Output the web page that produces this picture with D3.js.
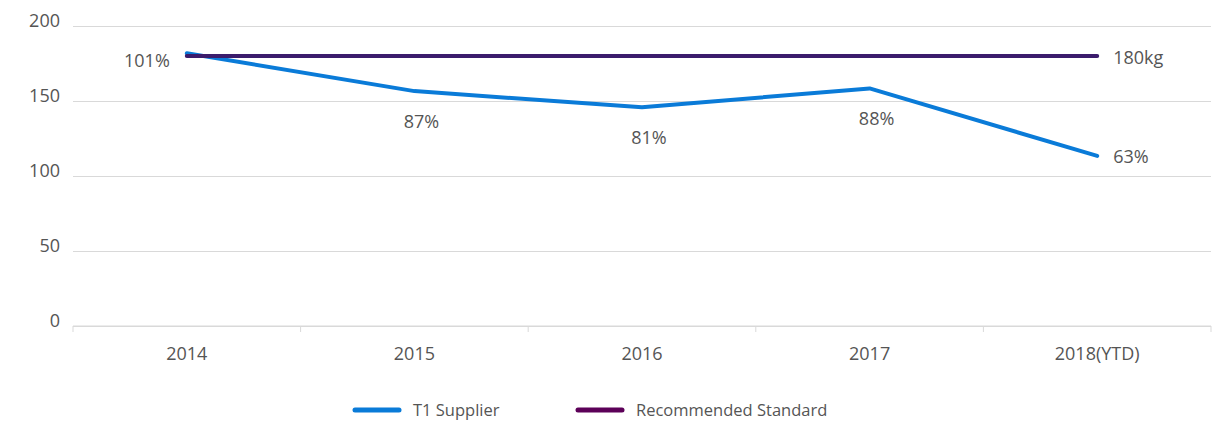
<!DOCTYPE html>
<html>
<head>
<meta charset="utf-8">
<script src="https://cdn.jsdelivr.net/npm/d3@7/dist/d3.min.js"></script>
<style>
  html, body { margin: 0; padding: 0; background: #fff; }
  svg text { font-family: "Open Sans", "Noto Sans", sans-serif; fill: #555555; }
</style>
</head>
<body>
<svg id="chart" width="1226" height="426"></svg>
<script>
// Annual figures (kg) against the recommended standard
const categories = ["2014", "2015", "2016", "2017", "2018(YTD)"];
const supplierValues = [181.8, 156.6, 145.8, 158.4, 113.4];
const standardValues = [180, 180, 180, 180, 180];
const yTicks = [0, 50, 100, 150, 200];
const seriesNames = ["T1 Supplier", "Recommended Standard"];

const W = 1226, H = 426;
const margin = { top: 26, right: 15, bottom: 100, left: 73 };
const innerW = W - margin.left - margin.right;
const innerH = H - margin.top - margin.bottom;
const numFont = 18;
const legendFont = 16.5;

const svg = d3.select("#chart");
const g = svg.append("g").attr("transform", `translate(${margin.left},${margin.top})`);

const x = d3.scaleBand().domain(categories).range([0, innerW]);
const y = d3.scaleLinear().domain([0, 200]).range([innerH, 0]);
const cx = c => x(c) + x.bandwidth() / 2;

// Horizontal gridlines with their value labels sitting just above
const yAxis = d3.axisLeft(y).tickValues(yTicks).tickSize(-innerW).tickPadding(13);
const yg = g.append("g").call(yAxis);
yg.select(".domain").remove();
yg.selectAll(".tick line").attr("stroke", "#d9d9d9").attr("stroke-width", 1);
yg.selectAll(".tick text")
  .attr("font-size", numFont)
  .attr("dy", 0)
  .attr("dominant-baseline", "auto");

// Category axis with ticks between the bands
const xAxisG = g.append("g").attr("transform", `translate(0,${innerH})`);
xAxisG.append("line")
  .attr("x1", 0).attr("x2", innerW)
  .attr("stroke", "#d9d9d9");
const bounds = categories.map(c => x(c)).concat([innerW]);
xAxisG.selectAll(".sep").data(bounds).join("line")
  .attr("x1", d => d).attr("x2", d => d)
  .attr("y1", 0).attr("y2", 6)
  .attr("stroke", "#d9d9d9");
xAxisG.selectAll(".cat").data(categories).join("text")
  .attr("x", d => cx(d))
  .attr("y", 34)
  .attr("text-anchor", "middle")
  .attr("font-size", numFont)
  .text(d => d);

const line = d3.line().x(d => cx(d.c)).y(d => y(d.v));

const supplier = categories.map((c, i) => ({ c, v: supplierValues[i] }));
const standard = categories.map((c, i) => ({ c, v: standardValues[i] }));

const supplierColor = "#0a7bd8";
const standardColor = "#3b1c6c";
const standardLegendColor = "#5c0058";

g.append("path").datum(supplier)
  .attr("d", line)
  .attr("fill", "none")
  .attr("stroke", supplierColor)
  .attr("stroke-width", 4)
  .attr("stroke-linejoin", "round")
  .attr("stroke-linecap", "round");

g.append("path").datum(standard)
  .attr("d", line)
  .attr("fill", "none")
  .attr("stroke", standardColor)
  .attr("stroke-width", 4)
  .attr("stroke-linecap", "round");

// Share of the standard, shown at each supplier point
const pct = (v, s) => Math.round(v / s * 100) + "%";
const last = supplier.length - 1;
g.selectAll(".pct").data(supplier).join("text")
  .attr("font-size", numFont)
  .attr("x", (d, i) => i === 0 ? cx(d.c) - 17 : i === last ? cx(d.c) + 16 : cx(d.c) + 7)
  .attr("y", (d, i) => i === 0 ? y(d.v) + 14 : i === last ? y(d.v) + 7 : y(d.v) + 37)
  .attr("dominant-baseline", "auto")
  .attr("text-anchor", (d, i) => i === 0 ? "end" : i === last ? "start" : "middle")
  .text((d, i) => pct(d.v, standardValues[i]));

// Standard value at the end of its line
const sEnd = standard[standard.length - 1];
g.append("text")
  .attr("font-size", numFont)
  .attr("x", cx(sEnd.c) + 16)
  .attr("y", y(sEnd.v) + 8)
  .text(sEnd.v + "kg");

// Legend
const legend = svg.append("g").attr("transform", "translate(0,410)");
const legendItems = [
  { name: seriesNames[0], color: supplierColor, x: 355 },
  { name: seriesNames[1], color: standardLegendColor, x: 578 }
];
const li = legend.selectAll("g").data(legendItems).join("g")
  .attr("transform", d => `translate(${d.x},0)`);
li.append("line")
  .attr("x1", 0).attr("x2", 44)
  .attr("stroke", d => d.color)
  .attr("stroke-width", 5)
  .attr("stroke-linecap", "round");
li.append("text")
  .attr("x", 58)
  .attr("y", 6)
  .attr("font-size", legendFont)
  .text(d => d.name);
</script>
</body>
</html>
